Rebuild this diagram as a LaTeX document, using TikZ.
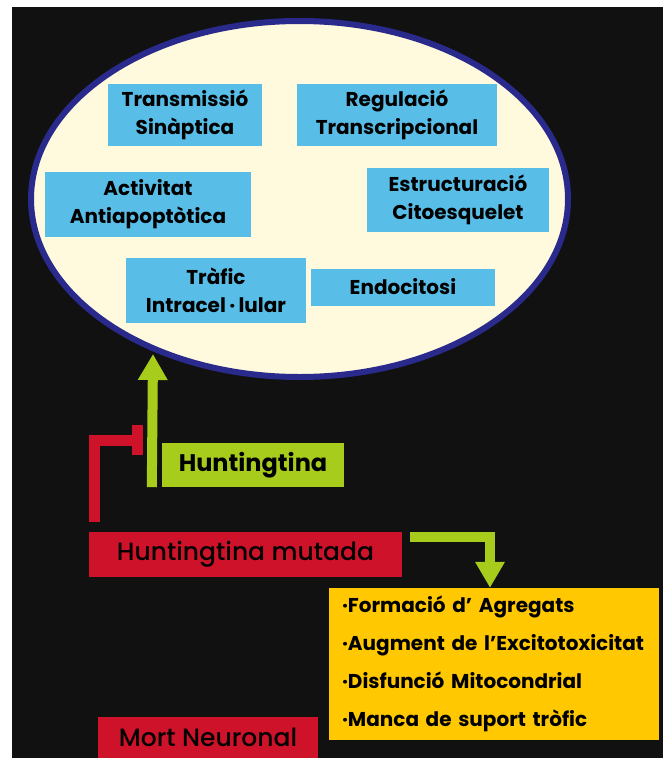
\documentclass[tikz,border=0pt]{standalone}
\usepackage{fontspec}
\setmainfont{Poppins}
\newfontfamily\mitja{Poppins Medium}
\usetikzlibrary{shapes.geometric,arrows.meta}
\definecolor{fons}{RGB}{17,17,17}
\definecolor{crema}{RGB}{255,250,222}
\definecolor{blaufosc}{RGB}{42,42,140}
\definecolor{blauclar}{RGB}{88,190,232}
\definecolor{verd}{RGB}{168,204,28}
\definecolor{vermell}{RGB}{206,18,42}
\definecolor{groc}{RGB}{255,200,0}
\begin{document}
\begin{tikzpicture}[x=1pt,y=-1pt,
        funcbox/.style={fill=blauclar,inner sep=0pt,align=center,text=black,font=\bfseries\fontsize{20}{28}\selectfont},
        redbox/.style={fill=vermell,inner sep=0pt,text=black,font=\mitja\fontsize{25}{30}\selectfont},
        greenarrow/.style={draw=verd,line width=10pt,-{Triangle[width=28pt,length=26pt]}},
        redbar/.style={draw=vermell,line width=11pt,-{Bar[width=30pt]}}]
        \useasboundingbox (0,0) rectangle (663,758);
        \fill[white] (0,0) rectangle (663,758);
        \fill[fons] (12,7) rectangle (663,758);
        \node[ellipse,draw=blaufosc,line width=6pt,fill=crema,minimum width=537pt,minimum height=356pt,inner sep=0pt] (funcions) at (299.5,199) {};
        \node[funcbox,minimum width=154pt,minimum height=62pt] (transm) at (185,115) {Transmissió\\Sinàptica};
        \node[funcbox,minimum width=200pt,minimum height=62pt] (regul) at (397,115) {Regulació\\Transcripcional};
        \node[funcbox,minimum width=206pt,minimum height=65pt] (antiap) at (148,204) {Activitat\\Antiapoptòtica};
        \node[funcbox,minimum width=182pt,minimum height=64pt] (citoesq) at (458,200) {Estructuració\\Citoesquelet};
        \node[funcbox,minimum width=180pt,minimum height=65pt] (trafic) at (216,290) {Tràfic\\Intracel\,·\,lular};
        \node[funcbox,minimum width=184pt,minimum height=37pt] (endoc) at (403,287) {Endocitosi};
        \node[fill=verd,inner sep=0pt,minimum width=182pt,minimum height=44pt,font=\bfseries\fontsize{24}{30}\selectfont] (htt) at (253,465) {Huntingtina};
        \node[redbox,minimum width=313pt,minimum height=45pt] (mhtt) at (245.5,554.5) {Huntingtina mutada};
        \node[fill=groc,inner xsep=13pt,inner ysep=0pt,text width=304pt,minimum height=152pt,align=left,font=\bfseries\fontsize{20}{38}\selectfont] (efectes) at (494,664)
            {·Formació d’ Agregats\\·Augment de l’Excitotoxicitat\\·Disfunció Mitocondrial\\·Manca de suport tròfic};
        \node[redbox,minimum width=220pt,minimum height=41pt] (mort) at (208,737.5) {Mort Neuronal};
        \coordinate (htip) at (153,354);
        \draw[greenarrow] ([xshift=-10pt]htt.south west) -- (htip);
        \coordinate (rstop) at (143,440);
        \draw[redbar] ([xshift=5.5pt,yshift=10pt]mhtt.north west) |- (rstop);
        \draw[greenarrow] ([xshift=8pt,yshift=-5pt]mhtt.north east) -| ([xshift=-4pt]efectes.north);
\end{tikzpicture}
\end{document}
